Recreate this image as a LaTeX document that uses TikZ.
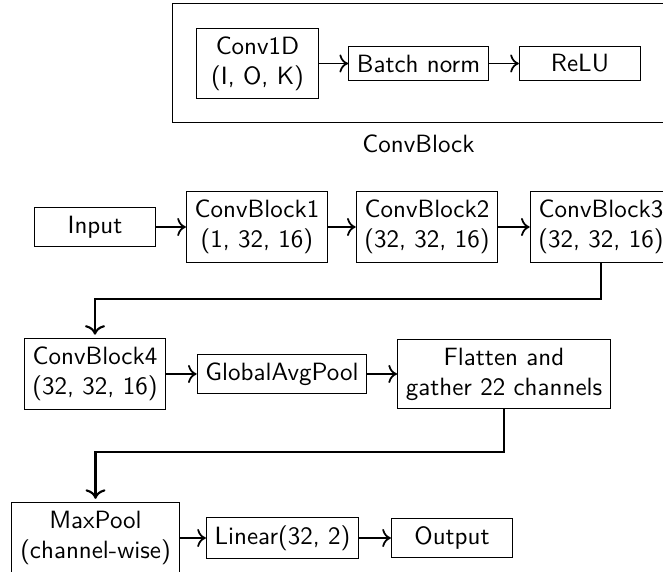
\documentclass[tikz,border=0pt]{standalone}
\usepackage{fontspec}
\usetikzlibrary{arrows.meta}
\begin{document}
\begin{tikzpicture}[x=0.4pt,y=-0.4pt,
  every node/.style={font=\sffamily},
  box/.style={draw, line width=0.4pt, minimum width=48.5pt, inner sep=3.33pt, align=center},
  flow/.style={-{To[scale=1.1]}, line width=0.7pt},
  link/.style={-{To[scale=1.1]}, line width=0.85pt, shorten >=1.4pt},
]
\useasboundingbox (0,0) rectangle (663,572);
\clip (0,0) rectangle (663,572);

% ConvBlock definition
\node[draw, line width=0.4pt, minimum width=197pt, minimum height=47.6pt] (block) at (418.5,63.5) {};
\node[box] (conv) at (257.5,63.5) {Conv1D\\(I, O, K)};
\node[box] (bn) at (418.5,63.5) {Batch norm};
\node[box] (relu) at (580,63.5) {ReLU};
\node (blabel) at (418.5,144) {ConvBlock};
\draw[flow] (conv) -- (bn);
\draw[flow] (bn) -- (relu);

% network, first row
\node[box] (input) at (95,227) {Input};
\node[box] (cb1) at (257,227) {ConvBlock1\\(1, 32, 16)};
\node[box] (cb2) at (427,227) {ConvBlock2\\(32, 32, 16)};
\node[box] (cb3) at (601,227) {ConvBlock3\\(32, 32, 16)};
\draw[flow] (input) -- (cb1);
\draw[flow] (cb1) -- (cb2);
\draw[flow] (cb2) -- (cb3);

% second row
\node[box] (cb4) at (95,374) {ConvBlock4\\(32, 32, 16)};
\node[box] (gap) at (282,374) {GlobalAvgPool};
\node[box] (flat) at (504,374) {Flatten and\\gather 22 channels};
\draw[flow] (cb4) -- (gap);
\draw[flow] (gap) -- (flat);

% third row
\node[box] (maxp) at (95.5,538) {MaxPool\\(channel-wise)};
\node[box] (lin) at (282.5,538) {Linear(32, 2)};
\node[box] (out) at (452,538) {Output};
\draw[flow] (maxp) -- (lin);
\draw[flow] (lin) -- (out);

% row-to-row connectors
\coordinate (bend1) at (350,299);
\coordinate (bend2) at (300,452);
\draw[link] (cb3.south) |- (bend1) -| (cb4.north);
\draw[link] (flat.south) |- (bend2) -| (maxp.north);
\end{tikzpicture}
\end{document}
